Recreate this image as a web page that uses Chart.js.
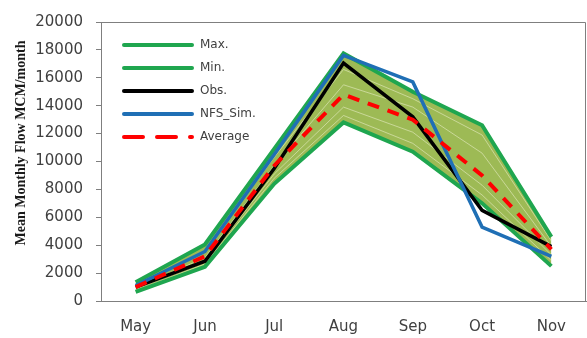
<!DOCTYPE html>
<html>
<head>
<meta charset="utf-8">
<script src="https://cdn.jsdelivr.net/npm/chart.js@4"></script>
<style>
  html, body { margin: 0; padding: 0; background: #fff; }
  #wrap { width: 587px; height: 338px; }
</style>
</head>
<body>
<div id="wrap"><canvas id="flowChart"></canvas></div>
<script>
const months = ['May', 'Jun', 'Jul', 'Aug', 'Sep', 'Oct', 'Nov'];

const maxFlow = [1350, 4050, 10900, 17750, 15000, 12600, 4600];
const minFlow = [650, 2450, 8400, 12800, 10700, 7000, 2500];
const obsFlow = [1000, 2850, 9500, 17050, 13200, 6500, 3900];
const simFlow = [1100, 3550, 10500, 17600, 15700, 5300, 3200];
const avgFlow = [1000, 3200, 9700, 14800, 13000, 9000, 3700];

// a few ensemble members inside the band
const member1 = [1150, 3600, 10300, 16600, 14500, 11900, 4300];
const member2 = [950, 3100, 9700, 15500, 13900, 10600, 3900];
const member3 = [850, 2800, 9100, 13900, 12100, 8300, 3300];
const member4 = [750, 2650, 8800, 13300, 11300, 7600, 2900];

const yTicks = [0, 2000, 4000, 6000, 8000, 10000, 12000, 14000, 16000, 18000, 20000];

const greenLine = '#1fa64f';
const blueLine = '#1f6fb5';
const bandFill = '#9dba55';

function memberSet(data) {
    return {
        label: '', data: data, borderColor: 'rgba(236,240,205,0.55)',
        borderWidth: 1, pointRadius: 0, fill: false, order: 8, tension: 0
    };
}

const legendItems = [
    { text: 'Max.', color: greenLine, dash: [] },
    { text: 'Min.', color: greenLine, dash: [] },
    { text: 'Obs.', color: '#000000', dash: [] },
    { text: 'NFS_Sim.', color: blueLine, dash: [] },
    { text: 'Average', color: '#ff0000', dash: [19, 14] }
];

// frame, legend and axis title
const decorPlugin = {
    id: 'decor',
    afterDraw(chart) {
        const ctx = chart.ctx;
        const a = chart.chartArea;
        ctx.save();
        ctx.strokeStyle = '#7f7f7f';
        ctx.lineWidth = 1;
        ctx.beginPath();
        ctx.moveTo(a.left, a.top + 0.5);
        ctx.lineTo(a.right - 0.5, a.top + 0.5);
        ctx.lineTo(a.right - 0.5, a.bottom);
        ctx.stroke();

        ctx.font = '12px "DejaVu Sans"';
        ctx.textBaseline = 'middle';
        legendItems.forEach(function(item, i) {
            const y = 45 + i * 23;
            ctx.strokeStyle = item.color;
            ctx.lineWidth = 4;
            ctx.lineCap = 'round';
            ctx.setLineDash(item.dash);
            ctx.beginPath();
            ctx.moveTo(124, y);
            ctx.lineTo(192, y);
            ctx.stroke();
            ctx.setLineDash([]);
            ctx.fillStyle = '#404040';
            ctx.fillText(item.text, 200, y);
        });

        ctx.translate(21, 143);
        ctx.rotate(-Math.PI / 2);
        ctx.font = 'bold 14px "Liberation Serif"';
        ctx.fillStyle = '#1a1a1a';
        ctx.textAlign = 'center';
        ctx.textBaseline = 'middle';
        ctx.fillText('Mean Monthly Flow MCM/month', 0, 0);
        ctx.restore();
    }
};

const ctx = document.getElementById('flowChart').getContext('2d');

new Chart(ctx, {
    type: 'line',
    data: {
        labels: months,
        datasets: [
            { label: 'Average', data: avgFlow, borderColor: '#ff0000', borderWidth: 4,
              borderDash: [12, 9], pointRadius: 0, fill: false, order: 1 },
            { label: 'NFS_Sim.', data: simFlow, borderColor: blueLine, borderWidth: 3.5,
              pointRadius: 0, fill: false, order: 2 },
            { label: 'Obs.', data: obsFlow, borderColor: '#000000', borderWidth: 3.5,
              pointRadius: 0, fill: false, order: 3 },
            { label: 'Max.', data: maxFlow, borderColor: greenLine, borderWidth: 4,
              pointRadius: 0, fill: { target: 4 }, backgroundColor: bandFill, order: 4 },
            { label: 'Min.', data: minFlow, borderColor: greenLine, borderWidth: 4,
              pointRadius: 0, fill: false, order: 5 },
            memberSet(member1),
            memberSet(member2),
            memberSet(member3),
            memberSet(member4)
        ]
    },
    options: {
        responsive: true,
        maintainAspectRatio: false,
        animation: false,
        layout: { padding: { top: 15, right: 1, left: 0, bottom: 0 } },
        plugins: {
            legend: { display: false },
            tooltip: { enabled: false },
            filler: { drawTime: 'beforeDatasetsDraw' }
        },
        scales: {
            x: {
                offset: true,
                grid: { display: false },
                border: { color: '#7f7f7f', width: 1 },
                ticks: { color: '#404040', font: { family: 'DejaVu Sans', size: 15 }, padding: 9 },
                afterFit(scale) { scale.height = 37; }
            },
            y: {
                min: 0,
                max: 20000,
                afterBuildTicks(scale) { scale.ticks = yTicks.map(v => ({ value: v })); },
                grid: { drawOnChartArea: false, drawTicks: true, tickLength: 5, color: '#7f7f7f' },
                border: { color: '#7f7f7f', width: 1 },
                ticks: {
                    color: '#404040', font: { family: 'DejaVu Sans', size: 15 }, padding: 13,
                    callback: v => String(v)
                },
                afterFit(scale) { scale.width = 101; }
            }
        }
    },
    plugins: [decorPlugin]
});
</script>
</body>
</html>
